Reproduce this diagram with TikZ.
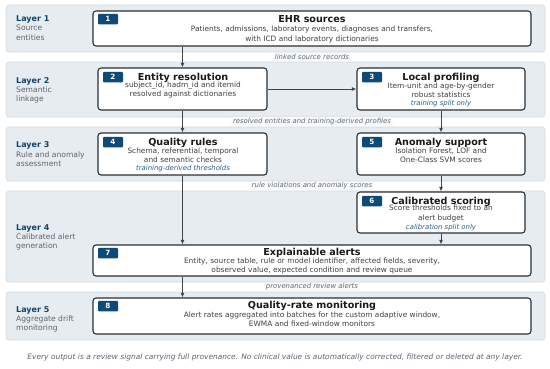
\documentclass[tikz,border=0pt]{standalone}
\usepackage{fontspec}
\setmainfont{DejaVu Sans}
\usetikzlibrary{arrows.meta}
\definecolor{bandfill}{HTML}{E7ECF0}
\definecolor{banddraw}{HTML}{D3DCE3}
\definecolor{layerblue}{HTML}{12446E}
\definecolor{subgray}{HTML}{5B6570}
\definecolor{badgeblue}{HTML}{0E4A78}
\definecolor{noteblue}{HTML}{2C5D8C}
\definecolor{boxline}{HTML}{2A2F35}
\definecolor{labgray}{HTML}{666D75}
\tikzset{
  band/.style={draw=banddraw, fill=bandfill, rounded corners=3pt, line width=0.6pt},
  box/.style={draw=boxline, fill=white, rounded corners=3pt, line width=1.1pt, inner sep=0pt},
  badge/.style={fill=badgeblue, rounded corners=1pt, text=white, font=\bfseries\fontsize{7.2}{8}\selectfont, minimum width=20pt, minimum height=10.5pt, inner sep=0pt},
  title/.style={font=\bfseries\fontsize{9.6}{10}\selectfont, text=black!90, inner sep=0pt},
  body/.style={font=\fontsize{7.4}{9.2}\selectfont, text=black!75, align=center, inner sep=0pt},
  note/.style={font=\itshape\fontsize{6.9}{8}\selectfont, text=noteblue, inner sep=0pt},
  layert/.style={font=\bfseries\fontsize{8}{9}\selectfont, text=layerblue, anchor=west, inner sep=0pt},
  layers/.style={font=\fontsize{7.6}{9.4}\selectfont, text=subgray, anchor=north west, align=left, inner sep=0pt},
  elab/.style={font=\itshape\fontsize{6.9}{8}\selectfont, text=labgray, fill=white!70!bandfill, inner xsep=2pt, inner ysep=1pt},
  arr/.style={draw=boxline!90, line width=0.9pt, -{Latex[length=4.5pt,width=4pt]}},
}
\begin{document}
\begin{tikzpicture}[x=1pt,y=-1pt]
\useasboundingbox[fill=white] (0,0) rectangle (550,368);
% bands
\path[band] (6,5) rectangle (545,52);
\path[band] (6,62) rectangle (545,117);
\path[band] (6,127) rectangle (545,181);
\path[band] (6,191) rectangle (545,282);
\path[band] (6,292) rectangle (545,340);
% layer labels
\node[layert] (l1) at (16,19.5) {Layer 1};
\node[layers] (l1s) at (l1.south west) [yshift=-1.5pt] {Source\\entities};
\node[layert] (l2) at (16,81) {Layer 2};
\node[layers] (l2s) at (l2.south west) [yshift=-1.5pt] {Semantic\\linkage};
\node[layert] (l3) at (16,145.5) {Layer 3};
\node[layers] (l3s) at (l3.south west) [yshift=-1.5pt] {Rule and anomaly\\assessment};
\node[layert] (l4) at (16,228) {Layer 4};
\node[layers] (l4s) at (l4.south west) [yshift=-1.5pt] {Calibrated alert\\generation};
\node[layert] (l5) at (16,310) {Layer 5};
\node[layers] (l5s) at (l5.south west) [yshift=-1.5pt] {Aggregate drift\\monitoring};
% boxes
\node[box, minimum width=438pt, minimum height=35pt] (n1) at (312,28.5) {};
\node[box, minimum width=169pt, minimum height=42pt] (n2) at (182.5,89) {};
\node[box, minimum width=168pt, minimum height=42pt] (n3) at (441,89) {};
\node[box, minimum width=169pt, minimum height=42pt] (n4) at (182.5,154) {};
\node[box, minimum width=168pt, minimum height=42pt] (n5) at (441,154) {};
\node[box, minimum width=168pt, minimum height=41pt] (n6) at (441,212.5) {};
\node[box, minimum width=438pt, minimum height=31pt] (n7) at (312,260.5) {};
\node[box, minimum width=438pt, minimum height=36pt] (n8) at (312,316) {};
% badges
\node[badge] (b1) at (108,19) {1};
\node[badge] (b2) at (113,77) {2};
\node[badge] (b3) at (372,77) {3};
\node[badge] (b4) at (113,142) {4};
\node[badge] (b5) at (372,142) {5};
\node[badge] (b6) at (372,201) {6};
\node[badge] (b7) at (108,253) {7};
\node[badge] (b8) at (108,306) {8};
% texts
\node[title] (t1) at (312,19.5) {EHR sources};
\node[body] (d1) at (312,34.5) {Patients, admissions, laboratory events, diagnoses and transfers,\\with ICD and laboratory dictionaries};
\node[title] (t2) at (183,77.5) {Entity resolution};
\node[body] (d2) at (183,90) {subject\_id, hadm\_id and itemid\\resolved against dictionaries};
\node[title] (t3) at (441,77.5) {Local profiling};
\node[body] (d3) at (441,90) {Item-unit and age-by-gender\\robust statistics};
\node[note] (o3) at (441,104) {training split only};
\node[title] (t4) at (183,142.5) {Quality rules};
\node[body] (d4) at (183,155) {Schema, referential, temporal\\and semantic checks};
\node[note] (o4) at (183,169) {training-derived thresholds};
\node[title] (t5) at (441,142.5) {Anomaly support};
\node[body] (d5) at (441,155) {Isolation Forest, LOF and\\One-Class SVM scores};
\node[title] (t6) at (441,201.5) {Calibrated scoring};
\node[body] (d6) at (441,213.5) {Score thresholds fixed to an\\alert budget};
\node[note] (o6) at (441,228) {calibration split only};
\node[title] (t7) at (312,252.5) {Explainable alerts};
\node[body] (d7) at (312,266) {Entity, source table, rule or model identifier, affected fields, severity,\\observed value, expected condition and review queue};
\node[title] (t8) at (312,305.5) {Quality-rate monitoring};
\node[body] (d8) at (312,319.5) {Alert rates aggregated into batches for the custom adaptive window,\\EWMA and fixed-window monitors};
% arrows
\draw[arr] (n1.south -| n2.north) -- (n2.north);
\draw[arr] (n2.east) -- (n3.west);
\draw[arr] (n2.south) -- (n4.north);
\draw[arr] (n3.south) -- (n5.north);
\draw[arr] (n5.south) -- (n6.north);
\draw[arr] (n4.south) -- (n4.south |- n7.north);
\draw[arr] (n6.south) -- (n6.south |- n7.north);
\draw[arr] (n4.south |- n7.south) -- (n4.south |- n8.north);
% edge labels
\node[elab] (e1) at (312,57) {linked source records};
\node[elab] (e2) at (312,121.5) {resolved entities and training-derived profiles};
\node[elab] (e3) at (312,186) {rule violations and anomaly scores};
\node[elab] (e4) at (312,287) {provenanced review alerts};
% footer
\node[font=\itshape\fontsize{7.45}{8}\selectfont, text=subgray, inner sep=0pt] (ft) at (275,357.5) {Every output is a review signal carrying full provenance. No clinical value is automatically corrected, filtered or deleted at any layer.};
\end{tikzpicture}
\end{document}
